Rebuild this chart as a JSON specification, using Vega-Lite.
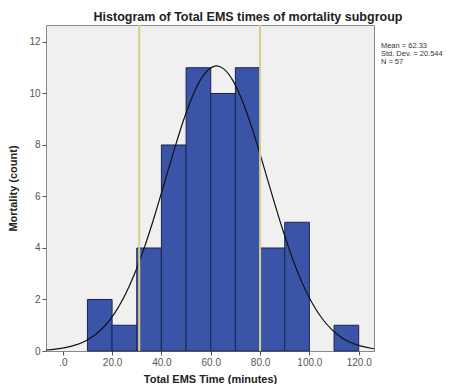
{
  "$schema": "https://vega.github.io/schema/vega-lite/v6.json",
  "width": 328,
  "height": 326,
  "padding": {"left": 7, "top": 10, "right": 0, "bottom": 0},
  "background": "white",
  "config": {
    "view": {"fill": "#f0f0f0", "stroke": "#888888", "strokeWidth": 1},
    "font": "Liberation Sans",
    "axis": {"grid": false, "domain": false, "tickColor": "#555555", "tickSize": 4, "labelColor": "#555555", "labelFontSize": 10, "titleFontSize": 11, "titleFontWeight": "bold", "titleColor": "#222222"}
  },
  "title": {"text": "Histogram of Total EMS times of mortality subgroup", "fontSize": 12.5, "fontWeight": "bold", "color": "#222222", "dx": 38, "offset": 1, "anchor": "middle"},
  "datasets": {
    "bins": [
      {"start": 10, "end": 20, "count": 2},
      {"start": 20, "end": 30, "count": 1},
      {"start": 30, "end": 40, "count": 4},
      {"start": 40, "end": 50, "count": 8},
      {"start": 50, "end": 60, "count": 11},
      {"start": 60, "end": 70, "count": 10},
      {"start": 70, "end": 80, "count": 11},
      {"start": 80, "end": 90, "count": 4},
      {"start": 90, "end": 100, "count": 5},
      {"start": 110, "end": 120, "count": 1}
    ],
    "curve": [
      {"x": -6.8, "y": 0.039}, {"x": -3, "y": 0.0705}, {"x": 1, "y": 0.1285}, {"x": 5, "y": 0.2255},
      {"x": 9, "y": 0.381}, {"x": 13, "y": 0.6196}, {"x": 17, "y": 0.970}, {"x": 21, "y": 1.463},
      {"x": 25, "y": 2.124}, {"x": 29, "y": 2.969}, {"x": 33, "y": 3.995}, {"x": 37, "y": 5.176},
      {"x": 41, "y": 6.457}, {"x": 45, "y": 7.755}, {"x": 49, "y": 8.968}, {"x": 53, "y": 9.984},
      {"x": 57, "y": 10.703}, {"x": 61, "y": 11.046}, {"x": 62.33, "y": 11.069}, {"x": 65, "y": 10.976},
      {"x": 69, "y": 10.501}, {"x": 73, "y": 9.672}, {"x": 77, "y": 8.578}, {"x": 81, "y": 7.324},
      {"x": 85, "y": 6.022}, {"x": 89, "y": 4.765}, {"x": 93, "y": 3.632}, {"x": 97, "y": 2.665},
      {"x": 101, "y": 1.883}, {"x": 105, "y": 1.281}, {"x": 109, "y": 0.8385}, {"x": 113, "y": 0.5288},
      {"x": 117, "y": 0.3209}, {"x": 121, "y": 0.1875}, {"x": 125, "y": 0.1055}, {"x": 126.2, "y": 0.0881}
    ],
    "refs": [{"x": 31}, {"x": 80}],
    "stats": [
      {"x": 129, "y": 11.84, "label": "Mean = 62.33"},
      {"x": 129, "y": 11.53, "label": "Std. Dev. = 20.544"},
      {"x": 129, "y": 11.22, "label": "N = 57"}
    ]
  },
  "layer": [
    {
      "data": {"name": "bins"},
      "mark": {"type": "bar", "fill": "#3a55a8", "stroke": "#1b2450", "strokeWidth": 1},
      "encoding": {
        "x": {"field": "start", "type": "quantitative", "scale": {"domain": [-6.8, 126.2], "nice": false, "zero": false},
              "axis": {"values": [0, 20, 40, 60, 80, 100, 120], "labelExpr": "datum.value == 0 ? '.0' : format(datum.value, '.1f')", "title": "Total EMS Time (minutes)", "titlePadding": 6}},
        "x2": {"field": "end"},
        "y": {"field": "count", "type": "quantitative", "scale": {"domain": [0, 12.66], "nice": false},
              "axis": {"values": [0, 2, 4, 6, 8, 10, 12], "title": "Mortality (count)", "titlePadding": 10}},
        "y2": {"datum": 0}
      }
    },
    {
      "data": {"name": "curve"},
      "mark": {"type": "line", "color": "#111111", "strokeWidth": 1.2, "interpolate": "monotone"},
      "encoding": {
        "x": {"field": "x", "type": "quantitative"},
        "y": {"field": "y", "type": "quantitative"}
      }
    },
    {
      "data": {"name": "refs"},
      "mark": {"type": "rule", "color": "#d6d08c", "strokeWidth": 2},
      "encoding": {
        "x": {"field": "x", "type": "quantitative"}
      }
    },
    {
      "data": {"name": "stats"},
      "mark": {"type": "text", "align": "left", "baseline": "middle", "fontSize": 7.5, "color": "#333333"},
      "encoding": {
        "x": {"field": "x", "type": "quantitative"},
        "y": {"field": "y", "type": "quantitative"},
        "text": {"field": "label"}
      }
    }
  ]
}
